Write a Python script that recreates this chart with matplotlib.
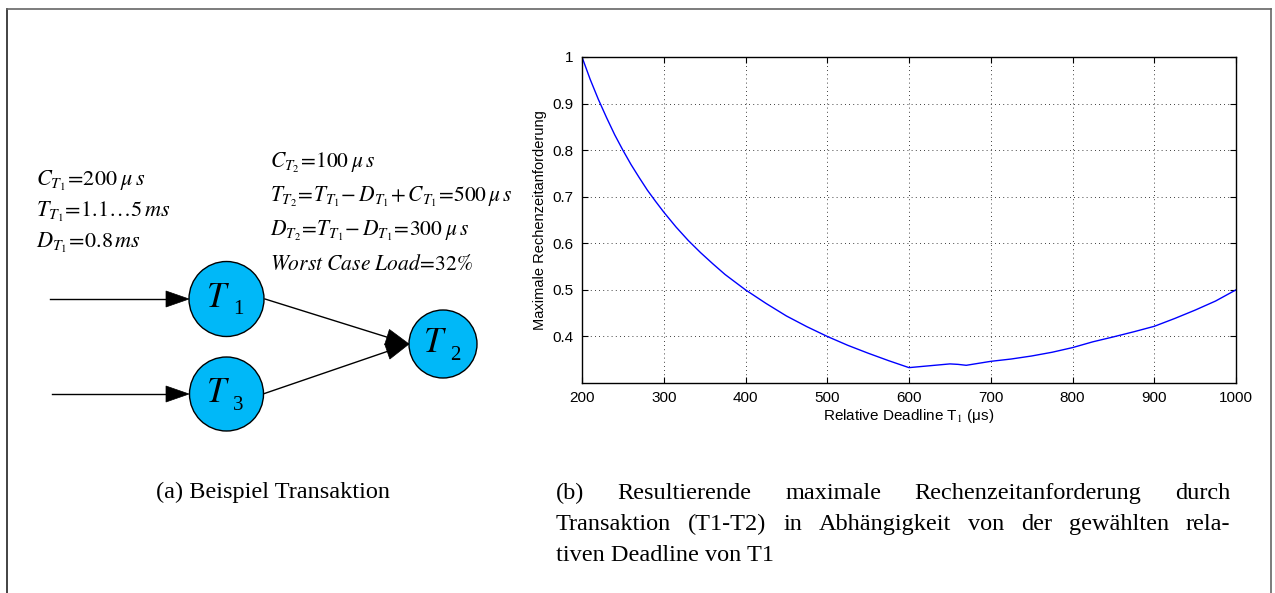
import numpy as np
import matplotlib
matplotlib.use("Agg")
import matplotlib.pyplot as plt
from matplotlib.patches import Circle, Polygon

plt.rcParams['mathtext.fontset'] = 'stix'

# ---------------- data ----------------
deadline = [200, 210, 220, 230, 240, 250, 260, 270, 280, 290, 300, 315, 330, 345,
            360, 375, 400, 425, 450, 475, 500, 525, 550, 575, 600, 625, 650, 660,
            670, 700, 725, 750, 775, 800, 825, 850, 875, 900, 925, 950, 975, 1000]
load = [1.0, 0.952, 0.909, 0.870, 0.833, 0.800, 0.769, 0.741, 0.714, 0.690, 0.667,
        0.635, 0.606, 0.580, 0.556, 0.533, 0.500, 0.471, 0.444, 0.421, 0.400, 0.381,
        0.364, 0.348, 0.333, 0.337, 0.341, 0.340, 0.338, 0.3465, 0.3515, 0.358,
        0.366, 0.376, 0.3885, 0.399, 0.410, 0.4217, 0.4385, 0.4565, 0.476, 0.500]
xticks = [200, 300, 400, 500, 600, 700, 800, 900, 1000]
yticks = [0.4, 0.5, 0.6, 0.7, 0.8, 0.9, 1.0]
ytick_labels = ['0.4', '0.5', '0.6', '0.7', '0.8', '0.9', '1']

left_params = [r'$C_{T_1}\!=\!200\;\mu\, s$',
               r'$T_{T_1}\!=\!1.1\ldots 5\,ms$',
               r'$D_{T_1}\!=\!0.8\,ms$']
right_params = [r'$C_{T_2}\!=\!100\;\mu\, s$',
                r'$T_{T_2}\!=\!T_{T_1}\!-D_{T_1}\!+C_{T_1}\!=\!500\,\mu\, s$',
                r'$D_{T_2}\!=\!T_{T_1}\!-D_{T_1}\!=\!300\;\mu\, s$',
                r'$Worst\ Case\ Load\!=\!32\%$']
caption_a = "(a) Beispiel Transaktion"
caption_b_lines = ["(b) Resultierende maximale Rechenzeitanforderung durch",
                   "Transaktion (T1-T2) in Abhängigkeit von der gewählten rela-",
                   "tiven Deadline von T1"]

W, H = 1275, 593
fig = plt.figure(figsize=(W / 100, H / 100), dpi=100)

# overlay axes in pixel coordinates
ov = fig.add_axes([0, 0, 1, 1])
ov.set_xlim(0, W)
ov.set_ylim(H, 0)
ov.axis('off')

# outer frame
ov.plot([7, 7], [9, H + 5], color='#222222', lw=1.2, clip_on=False)
ov.plot([7, 1271], [9, 9], color='#666666', lw=1.2, clip_on=False)
ov.plot([1271, 1271], [9, H + 5], color='#666666', lw=1.2, clip_on=False)

# ---------------- diagram ----------------
node_color = '#00B8F8'
nodes = {'1': (226.5, 299, 37.5), '3': (226.5, 394, 37), '2': (443, 344, 34)}
for k, (cx, cy, r) in nodes.items():
    ov.add_patch(Circle((cx, cy), r, facecolor=node_color, edgecolor='black', lw=1.0, zorder=3))
    ov.text(cx - 8, cy - 2, r'$T$', fontsize=25, ha='center', va='center', zorder=4)
    ov.text(cx + 12, cy + 11, k, fontsize=15, family='Liberation Serif',
            ha='center', va='center', zorder=4)


def arrow(x0, y0, x1, y1, L=23, w=8):
    d = np.array([x1 - x0, y1 - y0], float)
    d /= np.hypot(*d)
    n = np.array([-d[1], d[0]])
    tip = np.array([x1, y1])
    base = tip - L * d
    ov.plot([x0, base[0]], [y0, base[1]], color='black', lw=1.0, zorder=2)
    ov.add_patch(Polygon([tip, base + w * n, base - w * n], closed=True,
                         facecolor='black', edgecolor='black', lw=0.5, zorder=2))


arrow(50, 299, 189, 299)
arrow(52, 394, 189, 394)
arrow(265, 299, 409, 344)
arrow(263, 394, 409, 344)

for i, s in enumerate(left_params):
    ov.text(36, 186 + i * 31, s, fontsize=16, ha='left', va='baseline')
for i, s in enumerate(right_params):
    ov.text(270, 168 + i * 34, s, fontsize=15.5, ha='left', va='baseline')

# ---------------- captions ----------------
CAP_FS = 17.5
ov.text(273, 498, caption_a, fontsize=CAP_FS, family='Liberation Serif',
        ha='center', va='baseline')

fig.canvas.draw()
renderer = fig.canvas.get_renderer()


def justified(line, x0, x1, y):
    words = line.split(' ')
    txts = [ov.text(0, y, w_, fontsize=CAP_FS, family='Liberation Serif',
                    ha='left', va='baseline') for w_ in words]
    widths = [t.get_window_extent(renderer).width for t in txts]
    gap = (x1 - x0 - sum(widths)) / (len(words) - 1)
    x = x0
    for t, wd in zip(txts, widths):
        t.set_x(x)
        x += wd + gap


justified(caption_b_lines[0], 556, 1230, 499)
justified(caption_b_lines[1], 556, 1230, 530)
ov.text(556, 561, caption_b_lines[2], fontsize=CAP_FS, family='Liberation Serif',
        ha='left', va='baseline')

# ---------------- plot ----------------
ax = fig.add_axes([582 / W, 1 - 383 / H, (1236 - 582) / W, (383 - 57) / H])
ax.plot(deadline, load, color='#0000FF', lw=1.0)
ax.set_xlim(200, 1000)
ax.set_ylim(0.3, 1.0)
ax.set_xticks(xticks)
ax.set_yticks(yticks)
ax.set_yticklabels(ytick_labels)
ax.grid(True, color='black', linestyle=(0, (1, 4)), lw=0.6)
ax.tick_params(direction='in', top=True, right=True, length=4, width=0.8,
               labelsize=11, pad=6)
for lab in ax.get_xticklabels() + ax.get_yticklabels():
    lab.set_family('Liberation Sans')
for sp in ax.spines.values():
    sp.set_linewidth(1.0)
ax.set_xlabel(r'Relative Deadline T$_1$ ($\mathregular{\mu}$s)', fontsize=11,
              family='Liberation Sans', labelpad=1)
ax.set_ylabel('Maximale Rechenzeitanforderung', fontsize=10.5,
              family='Liberation Sans', labelpad=4)

fig.savefig('out.png', dpi=100)
